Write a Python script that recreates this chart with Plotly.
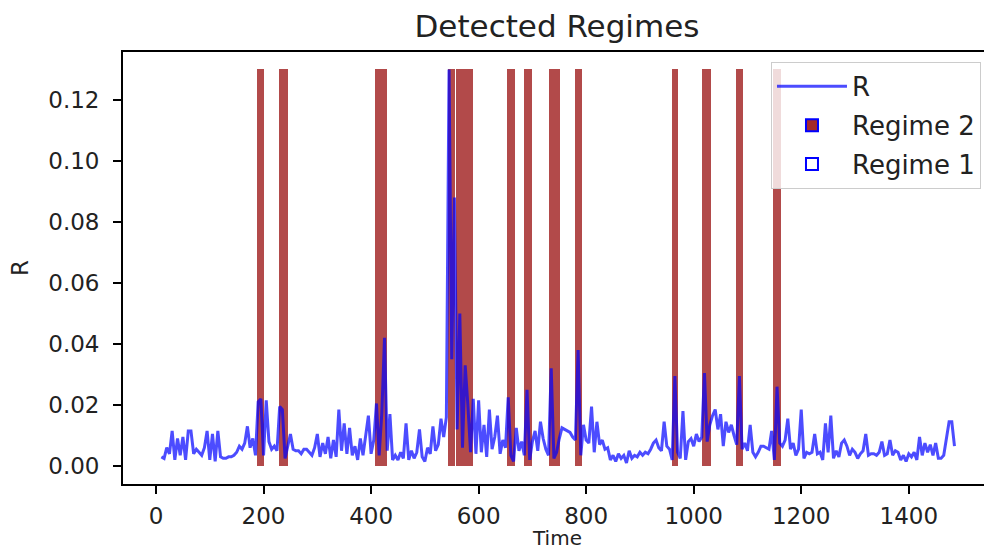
import plotly.graph_objects as go

# ---------------- data ----------------
time_start = 10
time_step = 5
R_values = [
    # t = 10 .. 105
    0.003, 0.0025, 0.006, 0.004, 0.0115, 0.002, 0.009, 0.0035, 0.0095, 0.002,
    0.0115, 0.0115, 0.004, 0.0055, 0.0045, 0.0035, 0.006, 0.0115, 0.002, 0.0105,
    # t = 110 .. 205
    0.0015, 0.0115, 0.003, 0.0025, 0.0025, 0.003, 0.003, 0.0035, 0.0045, 0.0065,
    0.0055, 0.0075, 0.013, 0.006, 0.009, 0.0035, 0.021, 0.022, 0.0035, 0.0215,
    # t = 210 .. 305
    0.008, 0.0055, 0.0065, 0.005, 0.0195, 0.0185, 0.0025, 0.0065, 0.0105, 0.0055,
    0.005, 0.005, 0.004, 0.0055, 0.0055, 0.0045, 0.0035, 0.006, 0.0105, 0.003,
    # t = 310 .. 405
    0.0075, 0.004, 0.0095, 0.0025, 0.0085, 0.003, 0.0185, 0.005, 0.014, 0.004,
    0.0125, 0.0035, 0.0065, 0.002, 0.009, 0.0035, 0.0105, 0.0165, 0.004, 0.0085,
    # t = 410 .. 505
    0.0205, 0.0035, 0.0175, 0.042, 0.005, 0.017, 0.002, 0.0035, 0.002, 0.0045,
    0.0025, 0.014, 0.002, 0.005, 0.0025, 0.0045, 0.012, 0.003, 0.0015, 0.006,
    # t = 510 .. 605
    0.004, 0.013, 0.005, 0.007, 0.0155, 0.0095, 0.016, 0.13, 0.035, 0.088,
    0.012, 0.05, 0.006, 0.033, 0.02, 0.0045, 0.022, 0.004, 0.0215, 0.0045,
    # t = 610 .. 705
    0.0135, 0.003, 0.0185, 0.0055, 0.0095, 0.0165, 0.004, 0.0085, 0.006, 0.0225,
    0.0035, 0.0015, 0.0125, 0.005, 0.008, 0.0035, 0.025, 0.002, 0.008, 0.0115,
    # t = 710 .. 805
    0.005, 0.0145, 0.009, 0.0055, 0.0035, 0.032, 0.0025, 0.0045, 0.009, 0.0125,
    0.012, 0.0115, 0.011, 0.0095, 0.0085, 0.038, 0.0035, 0.0135, 0.0085, 0.0075,
    # t = 810 .. 905
    0.0195, 0.0045, 0.0145, 0.007, 0.0085, 0.0055, 0.006, 0.002, 0.0035, 0.0015,
    0.004, 0.0025, 0.0035, 0.001, 0.005, 0.0025, 0.0035, 0.003, 0.0045, 0.0035,
    # t = 910 .. 1005
    0.0045, 0.004, 0.0055, 0.0075, 0.0085, 0.006, 0.005, 0.0145, 0.0065, 0.0055,
    0.002, 0.0295, 0.0045, 0.0025, 0.018, 0.002, 0.008, 0.009, 0.0065, 0.0105,
    # t = 1010 .. 1105
    0.008, 0.0095, 0.0305, 0.008, 0.0135, 0.0165, 0.0185, 0.012, 0.017, 0.0065,
    0.0145, 0.011, 0.0135, 0.01, 0.007, 0.0295, 0.0055, 0.0075, 0.005, 0.0135,
    # t = 1110 .. 1205
    0.0045, 0.003, 0.0045, 0.0065, 0.0065, 0.006, 0.0055, 0.0115, 0.002, 0.026,
    0.0075, 0.0065, 0.0085, 0.0155, 0.0055, 0.0075, 0.0035, 0.0055, 0.0185, 0.0025,
    # t = 1210 .. 1305
    0.0045, 0.004, 0.0045, 0.0105, 0.004, 0.0045, 0.002, 0.014, 0.0045, 0.0165,
    0.0025, 0.005, 0.003, 0.0075, 0.0085, 0.0065, 0.0035, 0.0055, 0.0045, 0.0025,
    # t = 1310 .. 1405
    0.004, 0.005, 0.0105, 0.0035, 0.004, 0.004, 0.0035, 0.0045, 0.008, 0.0035,
    0.004, 0.0085, 0.0035, 0.005, 0.0045, 0.002, 0.0035, 0.0015, 0.004, 0.003,
    # t = 1410 .. 1485
    0.0045, 0.002, 0.0095, 0.0035, 0.0075, 0.0045, 0.007, 0.0035, 0.0075, 0.0025,
    0.0025, 0.0035, 0.0085, 0.0145, 0.0145, 0.0065,
]
time = [time_start + time_step * i for i in range(len(R_values))]

# Regime 2 intervals (start, end) in time units
regime2_starts = [187, 228, 407, 418, 543, 557, 568, 579, 653, 684, 730, 741, 779, 960, 1016, 1078, 1148]
regime2_ends   = [201, 245, 418, 429, 556, 567, 578, 590, 668, 699, 740, 751, 793, 970, 1033, 1092, 1162]

x_tick_vals = [0, 200, 400, 600, 800, 1000, 1200, 1400]
y_tick_vals = [0.00, 0.02, 0.04, 0.06, 0.08, 0.10, 0.12]
y_tick_text = ["0.00", "0.02", "0.04", "0.06", "0.08", "0.10", "0.12"]

# ---------------- figure ----------------
FONT = "DejaVu Sans"
TXT = "#222222"
r_max = max(R_values)
centers = [(s + e) / 2 for s, e in zip(regime2_starts, regime2_ends)]
widths = [(e - s) for s, e in zip(regime2_starts, regime2_ends)]

fig = go.Figure()

fig.add_trace(go.Bar(
    x=centers, y=[r_max] * len(centers), width=widths, base=0,
    marker=dict(color="rgba(165,42,42,0.85)", line=dict(width=0)),
    showlegend=False, hoverinfo="skip",
))

fig.add_trace(go.Scatter(
    x=time, y=R_values, mode="lines", name="R",
    line=dict(color="rgba(0,0,255,0.7)", width=3),
    legendgroup="a", legendrank=1,
))

fig.add_trace(go.Bar(
    x=[None], y=[None], name="Regime 2",
    marker=dict(color="rgb(165,42,42)", line=dict(color="blue", width=2)),
    legendgroup="b", legendrank=2,
))
fig.add_trace(go.Bar(
    x=[None], y=[None], name="Regime 1",
    marker=dict(color="white", line=dict(color="blue", width=2)),
    legendgroup="c", legendrank=3,
))

fig.update_layout(
    width=984, height=551,
    margin=dict(l=123, r=0, t=52, b=67, autoexpand=False),
    plot_bgcolor="white", paper_bgcolor="white",
    barmode="overlay", bargap=0,
    font=dict(family=FONT, size=23, color=TXT),
    title=dict(text="Detected Regimes", x=0.504, xref="paper", xanchor="center",
               y=1 - 26 / 551, yref="container", yanchor="middle",
               font=dict(family=FONT, size=31, color=TXT)),
    legend=dict(x=0.9965, xanchor="right", y=0.977, yanchor="top",
                bgcolor="rgba(255,255,255,0.8)", bordercolor="#cccccc", borderwidth=1,
                font=dict(family=FONT, size=26, color=TXT),
                itemwidth=70, tracegroupgap=2, traceorder="grouped"),
    showlegend=True,
    annotations=[dict(text="Time", x=0.504, xref="paper", xanchor="center",
                      y=0, yref="paper", yanchor="top", yshift=-41, borderpad=0,
                      showarrow=False, font=dict(family=FONT, size=20, color=TXT))],
)

fig.update_xaxes(
    range=[-61.4, 1539.9], tickvals=x_tick_vals,
    showline=True, linecolor="black", linewidth=1.8, mirror=True,
    ticks="outside", ticklen=8, tickwidth=1.8, tickcolor="black",
    ticklabelstandoff=2, automargin=False,
    showgrid=False, zeroline=False,
)
fig.update_yaxes(
    range=[-0.0059, 0.1357], tickvals=y_tick_vals, ticktext=y_tick_text,
    showline=True, linecolor="black", linewidth=1.8, mirror=False,
    ticks="outside", ticklen=8, tickwidth=1.8, tickcolor="black",
    ticklabelstandoff=9, automargin=False,
    showgrid=False, zeroline=False,
    title=dict(text="R", standoff=13, font=dict(family=FONT, size=23, color=TXT)),
)

fig.write_html("out.html")
